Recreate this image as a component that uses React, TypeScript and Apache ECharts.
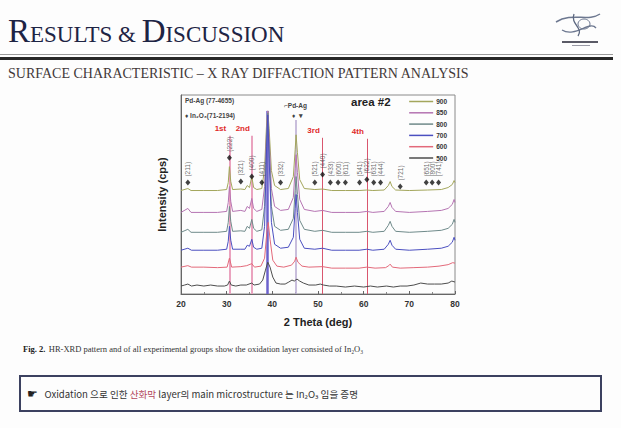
import React, { useEffect, useRef } from "react";
import * as echarts from "echarts";

// ---------- DATA ----------
const seriesNames = ["900", "850", "800", "700", "600", "500"];

const trace900: number[][] = [[20,104],[21.5,106],[22.2,104],[25,104],[28,104],[30.0,105],[30.35,112],[30.6,128],[30.9,113],[31.3,105],[33.1,105.5],[34.0,105],[34.5,109],[35.0,107],[35.5,118],[35.9,107],[36.6,105],[37.7,106],[38.3,126],[38.75,172],[39.0,184],[39.3,166],[39.8,124],[40.5,109],[41.8,105],[43.5,106],[44.6,118],[45.0,145],[45.2,160],[45.5,142],[46.0,115],[47,106],[49.3,105],[51.0,105.5],[53,104],[56,104],[59,104],[60.7,104.5],[62,104],[64.5,104.5],[65.4,109],[65.8,113],[66.2,108],[67,104.5],[70,104],[74,104.5],[77,105],[78.5,107],[79.4,110],[79.8,114],[80,112]];
const trace850: number[][] = [[20,82],[21.5,86],[22.2,82],[25,82],[28,82],[30.0,83],[30.35,92],[30.6,108],[30.9,93],[31.3,83],[33.1,84],[34.0,83],[34.5,88],[35.0,86],[35.5,96],[35.9,86],[36.6,83],[37.7,85],[38.3,108],[38.75,166],[39.0,184],[39.3,156],[39.8,106],[40.5,88],[41.8,84],[43.5,85],[44.6,97],[45.0,126],[45.2,140],[45.5,122],[46.0,95],[47,85],[49.3,83],[51.0,84],[53,82],[56,82],[59,82],[60.7,83],[62,82],[64.5,83],[65.4,88],[65.8,92],[66.2,87],[67,83],[70,82],[74,83],[77,84],[78.5,86],[79.4,90],[79.8,95],[80,92]];
const trace800: number[][] = [[20,62],[21.5,65],[22.2,62],[25,62],[28,62],[30.0,63],[30.35,72],[30.6,88],[30.9,73],[31.3,63],[33.1,63.5],[34.0,63],[34.5,68],[35.0,66],[35.5,75],[35.9,66],[36.6,63],[37.7,64.5],[38.3,88],[38.75,160],[39.0,182],[39.3,146],[39.8,88],[40.5,68],[41.8,64],[43.5,65],[44.6,76],[45.0,104],[45.2,118],[45.5,100],[46.0,74],[47,65],[49.3,63],[51.0,64],[53,62],[56,62],[59,62],[60.7,63],[62,62],[64.5,63],[65.4,69],[65.8,73],[66.2,68],[67,63],[70,62],[74,63],[77,64],[78.5,66],[79.4,70],[79.8,75],[80,72]];
const trace700: number[][] = [[20,44],[21.5,46],[22.3,44],[25,44],[28,44],[30.0,45],[30.35,53],[30.6,68],[30.9,54],[31.3,45],[33.1,45],[34.0,45],[34.5,49],[35.0,48],[35.5,55],[35.9,47],[36.6,45],[37.7,46],[38.3,68],[38.75,148],[39.0,180],[39.3,136],[39.8,72],[40.5,50],[41.8,46],[43.5,47],[44.6,57],[45.0,86],[45.2,100],[45.5,82],[46.0,55],[47,46],[49.3,45],[51.0,46],[53,44],[56,44],[59,44],[60.7,45],[62,44],[64.5,45],[65.4,50],[65.8,54],[66.2,49],[67,45],[70,44],[74,45],[77,46],[78.5,48],[79.4,52],[79.8,57],[80,54]];
const trace600: number[][] = [[20,27],[21.5,28.5],[22.3,27],[25,27],[28,26.5],[30.1,27],[30.6,36],[31.1,27],[33.1,27.5],[34.4,28.5],[35.5,30.5],[36.1,27],[37.5,28],[38.3,36],[38.8,62],[39.1,72],[39.5,55],[40.1,34],[41,28],[42.5,27],[44.2,29],[44.9,33],[45.2,37],[45.6,32],[46.5,28],[48,27],[51.0,27.5],[53,26],[56,26],[59,26],[60.7,27],[62.5,26],[64.8,26.5],[65.5,28.5],[65.8,30],[66.3,27],[68,26],[71,26.5],[74,27],[76.5,28],[78.5,29.5],[79.5,31.5],[80,31]];
const trace500: number[][] = [[20,8],[20.8,9],[21.5,10],[22.3,8],[23.5,9],[25,8],[26.5,9],[28,8],[29.5,8],[30.2,9],[30.6,13],[31.0,9],[32,8],[33.1,9],[34.3,9],[35.5,11],[36.0,9],[37.2,10],[37.9,14],[38.5,24],[39.0,32],[39.5,27],[40.1,17],[40.8,11],[41.8,10],[42.8,10],[43.6,12],[44.3,14],[44.8,13],[45.4,15],[46.0,13],[46.8,11],[48,9],[49.5,9],[50.5,10],[51.2,9],[52.5,8],[54,8],[56,7],[58,8],[60,7],[61.5,8],[63,7],[65,8],[66.5,7],[68,8],[69.5,8],[71,9],[72.5,11],[74,10],[75.5,10],[77,10],[78.5,11],[79.3,13],[80,12]];

const in2o3Positions = [21.5, 30.6, 33.1, 35.5, 37.7, 41.8, 49.3, 51.0, 52.7, 54.4, 56.0, 59.1, 60.7, 62.2, 63.7, 68.0, 73.7, 75.0, 76.4];
const in2o3Hkl = ["(211)", "(222)", "(321)", "(400)", "(411)", "(332)", "(521)", "(440)", "(433)", "(600)", "(611)", "(541)", "(622)", "(631)", "(444)", "(721)", "(651)", "(800)", "(741)"];
const in2o3Levels = [112, 137, 113, 118, 112, 112, 112, 120, 112, 112, 112, 112, 115, 112, 112, 108, 112, 112, 112];

const refLinePositions = [30.6, 35.5, 51.0, 60.7];
const refLineLabels = ["1st", "2nd", "3rd", "4th"];
const refLineTops = [159, 159, 157, 156];
const pdAgLinePositions = [38.95, 45.2];
const pdAgLineTops = [184, 175];

const xTickMin = 20;
const xTickMax = 80;
const xTickStep = 10;

// ---------- STYLE ----------
const colors = ["#a3a65c", "#b574b2", "#6f8a8a", "#4b4fc0", "#e3697a", "#4d4d4d"];
const SERIF = '"Liberation Serif", "DejaVu Serif", serif';
const SANS = '"Liberation Sans", Arial, sans-serif';
const KR = '"Noto Sans CJK KR", "Noto Sans", sans-serif';

const traces = [trace900, trace850, trace800, trace700, trace600, trace500];

function buildOption(): any {
  const lineSeries = traces.map((d, i) => ({
    name: seriesNames[i],
    type: "line",
    data: d,
    showSymbol: false,
    symbol: "none",
    lineStyle: { width: 1, color: colors[i] },
    itemStyle: { color: colors[i] },
    z: 3,
  }));

  const markData: any[] = refLinePositions.map((x, i) => [
    {
      coord: [x, 0],
      lineStyle: { color: i < 2 ? "#eaa3bf" : "#d9566e", width: i < 2 ? 2 : 1, type: "solid" },
      label: { show: true, formatter: refLineLabels[i] },
    },
    { coord: [x, refLineTops[i]] },
  ]);
  pdAgLinePositions.forEach((x, i) => {
    markData.push([
      {
        coord: [x, 0],
        lineStyle: { color: i === 0 ? "#6c62cc" : "#bcaed4", width: i === 0 ? 2.5 : 1.6, type: "solid" },
        label: { show: false },
      },
      { coord: [x, pdAgLineTops[i]] },
    ]);
  });

  const markerSeries = {
    name: "In2O3",
    type: "scatter",
    data: in2o3Positions.map((x, i) => [x, in2o3Levels[i], in2o3Hkl[i]]),
    symbol: "diamond",
    symbolSize: [5, 6],
    itemStyle: { color: "#111" },
    z: 5,
    label: {
      show: true,
      formatter: (p: any) => p.value[2],
      position: "top",
      distance: 3,
      rotate: 90,
      align: "left",
      verticalAlign: "middle",
      fontSize: 6.5,
      color: "#444",
      fontFamily: SANS,
    },
    markLine: {
      silent: true,
      symbol: ["none", "none"],
      z: 2,
      lineStyle: { type: "solid" },
      label: {
        position: "end",
        color: "#e02a2a",
        fontSize: 8,
        fontWeight: "bold",
        fontFamily: SANS,
        distance: 3,
        offset: [-9, 0],
      },
      data: markData,
    },
  };

  const graphic: any[] = [
    // title
    {
      type: "text",
      x: 8,
      y: 47,
      style: {
        text: "{b|R}{s|ESULTS & }{b|D}{s|ISCUSSION}",
        verticalAlign: "bottom",
        rich: {
          b: { fontSize: 33, fontFamily: SERIF, fill: "#1e2444", verticalAlign: "bottom" },
          s: { fontSize: 23, fontFamily: SERIF, fill: "#1e2444", verticalAlign: "bottom", padding: [0, 0, 1, 0] },
        },
      },
    },
    // rules
    { type: "rect", shape: { x: 0, y: 54, width: 613, height: 1 }, style: { fill: "#9a9a9a" } },
    { type: "rect", shape: { x: 0, y: 57, width: 613, height: 3 }, style: { fill: "#262626" } },
    // subtitle
    {
      type: "text",
      x: 8,
      y: 73,
      style: {
        text: "SURFACE CHARACTERISTIC – X RAY DIFFACTION PATTERN ANALYSIS",
        fontSize: 14,
        fontFamily: SERIF,
        fill: "#423838",
        verticalAlign: "middle",
      },
    },
    // logo
    { type: "bezierCurve", shape: { x1: 556, y1: 22, x2: 600, y2: 14, cpx1: 572, cpy1: 12, cpx2: 588, cpy2: 22 }, style: { stroke: "#6d7890", lineWidth: 1.5, fill: "none" } },
    { type: "bezierCurve", shape: { x1: 562, y1: 30, x2: 596, y2: 28, cpx1: 575, cpy1: 38, cpx2: 590, cpy2: 20 }, style: { stroke: "#6d7890", lineWidth: 1.3, fill: "none" } },
    { type: "bezierCurve", shape: { x1: 574, y1: 14, x2: 578, y2: 36, cpx1: 570, cpy1: 24, cpx2: 584, cpy2: 28 }, style: { stroke: "#5d6880", lineWidth: 1.3, fill: "none" } },
    { type: "ellipse", shape: { cx: 584, cy: 24, rx: 6, ry: 5 }, style: { stroke: "#6d7890", lineWidth: 1, fill: "none" } },
    { type: "rect", shape: { x: 562, y: 41, width: 36, height: 2 }, style: { fill: "#5a5a66" } },
    { type: "rect", shape: { x: 572, y: 45, width: 18, height: 1 }, style: { fill: "#9a9aa6" } },
    // plot annotations
    {
      type: "text",
      x: 185,
      y: 100,
      style: { text: "Pd-Ag (77-4655)", fontSize: 6.5, fontWeight: "bold", fontFamily: SANS, fill: "#444", verticalAlign: "middle" },
    },
    {
      type: "text",
      x: 185,
      y: 115,
      style: { text: "♦ In₂O₃(71-2194)", fontSize: 6.5, fontWeight: "bold", fontFamily: SANS, fill: "#444", verticalAlign: "middle" },
    },
    {
      type: "text",
      x: 351,
      y: 102,
      style: { text: "area #2", fontSize: 11.5, fontWeight: "bold", fontFamily: SANS, fill: "#222", verticalAlign: "middle" },
    },
    {
      type: "text",
      x: 284,
      y: 105,
      style: { text: "⌐Pd-Ag", fontSize: 6.5, fontWeight: "bold", fontFamily: SANS, fill: "#444", verticalAlign: "middle" },
    },
    {
      type: "text",
      x: 292,
      y: 115,
      style: { text: "♦  ▾", fontSize: 6.5, fontWeight: "bold", fontFamily: SANS, fill: "#444", verticalAlign: "middle" },
    },
    // caption
    {
      type: "text",
      x: 23,
      y: 349,
      style: {
        text: "{b|Fig. 2.} {n|HR-XRD pattern and of all experimental groups show the oxidation layer consisted of In₂O₃}",
        verticalAlign: "middle",
        rich: {
          b: { fontSize: 8.5, fontWeight: "bold", fontFamily: SERIF, fill: "#222" },
          n: { fontSize: 8.5, fontFamily: SERIF, fill: "#333" },
        },
      },
    },
    // box
    { type: "rect", shape: { x: 20, y: 376, width: 581, height: 35 }, style: { fill: "none", stroke: "#3c4160", lineWidth: 2 } },
    {
      type: "text",
      x: 27,
      y: 394,
      style: {
        text: "{i|☛}  {t|Oxidation 으로 인한 }{r|산화막}{t| layer의 main microstructure 는 In₂O₃ 임을 증명}",
        verticalAlign: "middle",
        rich: {
          i: { fontSize: 12, fontFamily: '"DejaVu Sans", sans-serif', fill: "#222" },
          t: { fontSize: 9.6, fontFamily: KR, fill: "#333" },
          r: { fontSize: 9.6, fontFamily: KR, fill: "#b3475c" },
        },
      },
    },
  ];

  return {
    animation: false,
    backgroundColor: "#fdfdfd",
    textStyle: { fontFamily: SANS },
    grid: { left: 181, right: 166, top: 95, bottom: 134, show: true, borderColor: "#8a8a8a", borderWidth: 1, containLabel: false },
    legend: {
      data: seriesNames,
      orient: "vertical",
      right: 169,
      top: 92,
      icon: "rect",
      itemWidth: 24,
      itemHeight: 1.5,
      itemGap: 2.3,
      textStyle: { fontSize: 6.5, fontWeight: "bold", color: "#333", lineHeight: 9, padding: [0, 0, 0, -2] },
    },
    xAxis: {
      type: "value",
      min: xTickMin,
      max: xTickMax,
      interval: xTickStep,
      name: "2 Theta (deg)",
      nameLocation: "middle",
      nameGap: 22,
      nameTextStyle: { fontSize: 11, fontWeight: "bold", color: "#222", fontFamily: SANS },
      axisLine: { lineStyle: { color: "#666" } },
      axisTick: { inside: true, length: 3, lineStyle: { color: "#666" } },
      minorTick: { show: true, splitNumber: 2, length: 2, lineStyle: { color: "#888" } },
      axisLabel: { fontSize: 8.5, fontWeight: "bold", color: "#333", margin: 5 },
      splitLine: { show: false },
    },
    yAxis: {
      type: "value",
      min: 0,
      max: 200,
      name: "Intensity (cps)",
      nameLocation: "middle",
      nameGap: 14,
      nameTextStyle: { fontSize: 11, fontWeight: "bold", color: "#222", fontFamily: SANS },
      axisLine: { show: true, lineStyle: { color: "#666" } },
      axisTick: { show: false },
      axisLabel: { show: false },
      splitLine: { show: false },
    },
    series: [...lineSeries, markerSeries],
    graphic,
  };
}

export default function App() {
  const ref = useRef<HTMLDivElement>(null);
  useEffect(() => {
    if (!ref.current) return;
    const chart = echarts.init(ref.current, null, { renderer: "svg" });
    chart.setOption(buildOption());
    return () => chart.dispose();
  }, []);
  return (
    <div
      ref={ref}
      style={{ position: "fixed", left: 0, top: 0, width: 621, height: 428, background: "#fdfdfd" }}
    />
  );
}
